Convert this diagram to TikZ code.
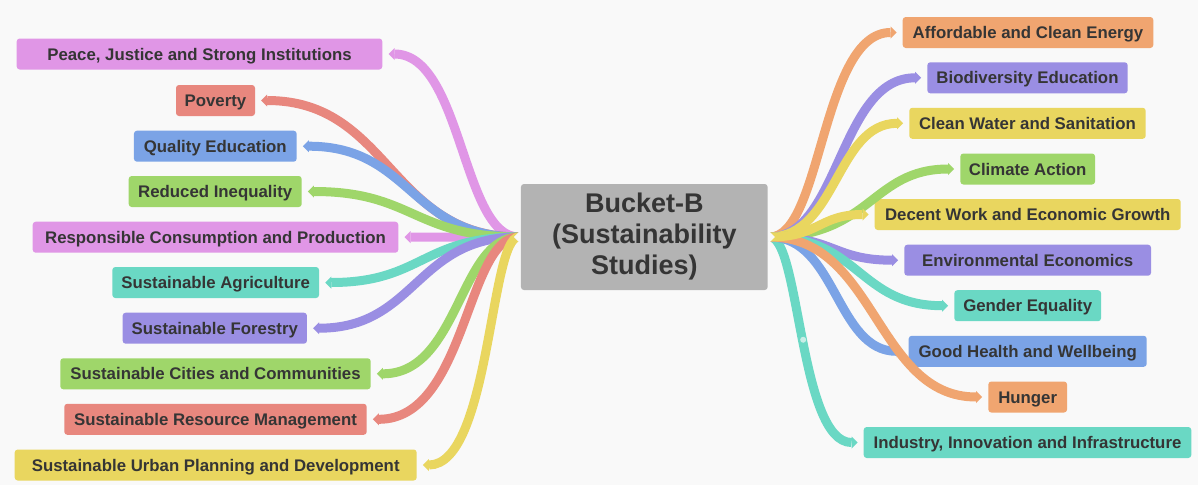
\documentclass[tikz,border=0pt]{standalone}
\usepackage{fontspec}
\setmainfont{Liberation Sans}
\usetikzlibrary{arrows.meta,calc}

\definecolor{bg}{HTML}{F9F9F9}
\definecolor{txt}{HTML}{353535}
\definecolor{hubgray}{HTML}{B3B3B3}
\definecolor{pinkc}{HTML}{E096E6}
\definecolor{redc}{HTML}{E8877E}
\definecolor{bluec}{HTML}{7BA3E6}
\definecolor{greenc}{HTML}{9FD66A}
\definecolor{tealc}{HTML}{6AD8C4}
\definecolor{purplec}{HTML}{9A8EE3}
\definecolor{yellowc}{HTML}{E9D65F}
\definecolor{orangec}{HTML}{F0A570}
\definecolor{dotc}{HTML}{C8EEE7}

\tikzset{
  hub/.style={fill=hubgray, rounded corners=3pt, minimum width=246.7pt,
    minimum height=106pt, inner sep=0pt, align=center, text=txt,
    font=\bfseries\fontsize{27}{31}\selectfont},
  leaf/.style={fill=#1, rounded corners=3pt, minimum height=31pt,
    inner xsep=0pt, inner ysep=0pt, text=txt,
    font=\bfseries\fontsize{16.8}{19}\selectfont,
    text height=12pt, text depth=0pt},
  link/.style={draw=#1, line width=9pt,
    -{Triangle[length=6pt,width=12pt,line width=0pt,fill=#1]}},
}

% branch leaving the hub to the left: leaf node, colour, control factor
\newcommand\linkleft[3]{%
  \draw[link=#2] (rootL) let \p1=(rootL), \p2=([xshift=6pt]#1.east) in
    .. controls ({\x1+#3*(\x2-\x1)},\y1) and ({\x1+#3*(\x2-\x1)},\y2) .. (\x2,\y2);}
% branch leaving the hub to the right
\newcommand\linkright[3]{%
  \draw[link=#2] (rootR) let \p1=(rootR), \p2=([xshift=-6pt]#1.west) in
    .. controls ({\x1+#3*(\x2-\x1)},\y1) and ({\x1+#3*(\x2-\x1)},\y2) .. (\x2,\y2);}

\begin{document}
\begin{tikzpicture}[x=1pt,y=-1pt]
\fill[bg] (0,0) rectangle (1198,485);
\useasboundingbox (0,0) rectangle (1198,485);

\node[hub] (hub) at (644.3,237) {Bucket-B\\(Sustainability\\Studies)};
\coordinate (rootL) at ([xshift=-2pt]hub.west);
\coordinate (rootR) at ([xshift=2pt]hub.east);

% left-hand topics
\node[leaf=pinkc,   minimum width=365.6pt] (peace)  at (199.5,54)    {Peace, Justice and Strong Institutions};
\node[leaf=redc,    minimum width=79pt]    (pov)    at (215.5,100.5) {Poverty};
\node[leaf=bluec,   minimum width=162.7pt] (qual)   at (215.3,146.2) {Quality Education};
\node[leaf=greenc,  minimum width=173pt]   (redu)   at (215.2,191.5) {Reduced Inequality};
\node[leaf=pinkc,   minimum width=365.6pt] (resp)   at (215.5,237.2) {Responsible Consumption and Production};
\node[leaf=tealc,   minimum width=206.7pt] (agri)   at (215.7,282.5) {Sustainable Agriculture};
\node[leaf=purplec, minimum width=184.3pt] (fore)   at (214.8,328.2) {Sustainable Forestry};
\node[leaf=greenc,  minimum width=310.4pt] (city)   at (215.5,373.8) {Sustainable Cities and Communities};
\node[leaf=redc,    minimum width=302.4pt] (reso)   at (215.5,419.3) {Sustainable Resource Management};
\node[leaf=yellowc, minimum width=402pt]   (urban)  at (215.7,465)   {Sustainable Urban Planning and Development};

% right-hand topics
\node[leaf=orangec, minimum width=250.6pt] (energy) at (1028,32.5)    {Affordable and Clean Energy};
\node[leaf=purplec, minimum width=200.4pt] (bio)    at (1027.5,77.8)  {Biodiversity Education};
\node[leaf=yellowc, minimum width=236.4pt] (water)  at (1027.5,123.3) {Clean Water and Sanitation};
\node[leaf=greenc,  minimum width=134.7pt] (clim)   at (1027.7,169)   {Climate Action};
\node[leaf=yellowc, minimum width=306pt]   (work)   at (1027.7,214.5) {Decent Work and Economic Growth};
\node[leaf=purplec, minimum width=246.7pt] (env)    at (1027.7,260.2) {Environmental Economics};
\node[leaf=tealc,   minimum width=146.7pt] (gend)   at (1027.7,305.7) {Gender Equality};
\node[leaf=bluec,   minimum width=238pt]   (health) at (1027.7,351.3) {Good Health and Wellbeing};
\node[leaf=orangec, minimum width=78.7pt]  (hung)   at (1027.7,397)   {Hunger};
\node[leaf=tealc,   minimum width=327.6pt] (indu)   at (1027.5,442.5) {Industry, Innovation and Infrastructure};

% connectors on the left
\linkleft{peace}{pinkc}{0.435}
\linkleft{pov}{redc}{0.5}
\linkleft{qual}{bluec}{0.5}
\linkleft{resp}{pinkc}{0.5}
\linkleft{redu}{greenc}{0.5}
\linkleft{agri}{tealc}{0.5}
\linkleft{fore}{purplec}{0.5}
\linkleft{city}{greenc}{0.42}
\linkleft{reso}{redc}{0.36}
\linkleft{urban}{yellowc}{0.3}

% connectors on the right
\linkright{indu}{tealc}{0.34}
\linkright{energy}{orangec}{0.41}
\linkright{bio}{purplec}{0.46}
\linkright{water}{yellowc}{0.5}
\linkright{clim}{greenc}{0.55}
\linkright{env}{purplec}{0.5}
\linkright{gend}{tealc}{0.5}
\linkright{health}{bluec}{0.5}
\linkright{hung}{orangec}{0.5}
\linkright{work}{yellowc}{0.5}

% small marker on the infrastructure branch
\path (rootR) let \p1=(rootR), \p2=([xshift=-6pt]indu.west) in
  .. controls ({\x1+0.34*(\x2-\x1)},\y1) and ({\x1+0.34*(\x2-\x1)},\y2) .. (\x2,\y2)
  coordinate[pos=0.5] (indumark);
\fill[dotc] (indumark) circle (3pt);

% notched tails where the branches meet the hub
\fill[bg] ([shift={(1,-6)}]rootL) -- ([shift={(-5,0)}]rootL) -- ([shift={(1,6)}]rootL) -- cycle;
\fill[bg] ([shift={(-1,-6)}]rootR) -- ([shift={(5,0)}]rootR) -- ([shift={(-1,6)}]rootR) -- cycle;
\end{tikzpicture}
\end{document}
